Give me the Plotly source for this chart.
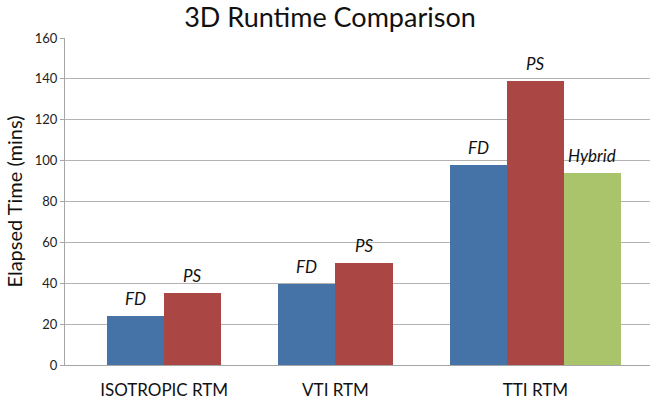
import plotly.graph_objects as go

# Runtime data (minutes) per migration type and solver
categories = ["ISOTROPIC RTM", "VTI RTM", "TTI RTM"]
series_names = ["FD", "PS", "Hybrid"]
fd_values = [24, 39.5, 98]
ps_values = [35, 50, 139]
hybrid_values = [None, None, 94]
y_ticks = [0, 20, 40, 60, 80, 100, 120, 140, 160]

colors = {"FD": "#4573A7", "PS": "#AA4744", "Hybrid": "#AAC46B"}
series_values = {"FD": fd_values, "PS": ps_values, "Hybrid": hybrid_values}

# Lay bars out side by side, one slot per present value, with a one-slot gap between groups
positions = {name: [None] * len(categories) for name in series_names}
group_centers = []
slot = 0
for ci in range(len(categories)):
    start = slot
    for name in series_names:
        if series_values[name][ci] is not None:
            positions[name][ci] = slot
            slot += 1
    group_centers.append((start + slot - 1) / 2)
    slot += 1  # gap
last_slot = slot - 2

FONT = "Lato, Open Sans, sans-serif"

fig = go.Figure()
annotations = []
for name in series_names:
    xs = [positions[name][i] for i in range(len(categories)) if series_values[name][i] is not None]
    ys = [series_values[name][i] for i in range(len(categories)) if series_values[name][i] is not None]
    fig.add_trace(go.Bar(
        x=xs, y=ys, name=name, width=1.0,
        marker=dict(color=colors[name], line=dict(width=0)),
        showlegend=False, hoverinfo="x+y",
    ))
    for x, y in zip(xs, ys):
        annotations.append(dict(
            x=x, y=y, xref="x", yref="y", text=f"<i>{name}</i>",
            showarrow=False, yanchor="bottom", yshift=5,
            font=dict(family=FONT, size=17, color="#111111"),
        ))

fig.update_layout(
    width=660, height=407,
    margin=dict(l=65, r=10, t=38, b=42),
    paper_bgcolor="white", plot_bgcolor="white",
    bargap=0,
    title=dict(
        text="3D Runtime Comparison",
        x=0.5, xanchor="center", y=1 - 18 / 407, yanchor="middle",
        font=dict(family=FONT, size=27, color="#111111"),
    ),
    annotations=annotations,
    font=dict(family=FONT, color="#222222"),
)

fig.update_xaxes(
    range=[-1.236, last_slot + 0.5 + 0.508],
    tickvals=group_centers, ticktext=categories,
    showgrid=False, zeroline=False,
    showline=True, linecolor="#A6A6A6", linewidth=1,
    ticks="", ticklen=0, ticklabelstandoff=10, automargin=False,
    tickfont=dict(family=FONT, size=17, color="#111111"),
)
fig.update_yaxes(
    range=[0, 160], tickvals=y_ticks,
    showgrid=True, gridcolor="#B3B3B3", gridwidth=1,
    zeroline=False, automargin=False,
    showline=True, linecolor="#A6A6A6", linewidth=1,
    ticks="outside", ticklen=4, tickcolor="#A6A6A6",
    tickfont=dict(family=FONT, size=13, color="#222222"),
    title=dict(text="Elapsed Time (mins)", standoff=6,
               font=dict(family=FONT, size=20, color="#111111")),
)

fig.write_html("out.html")
